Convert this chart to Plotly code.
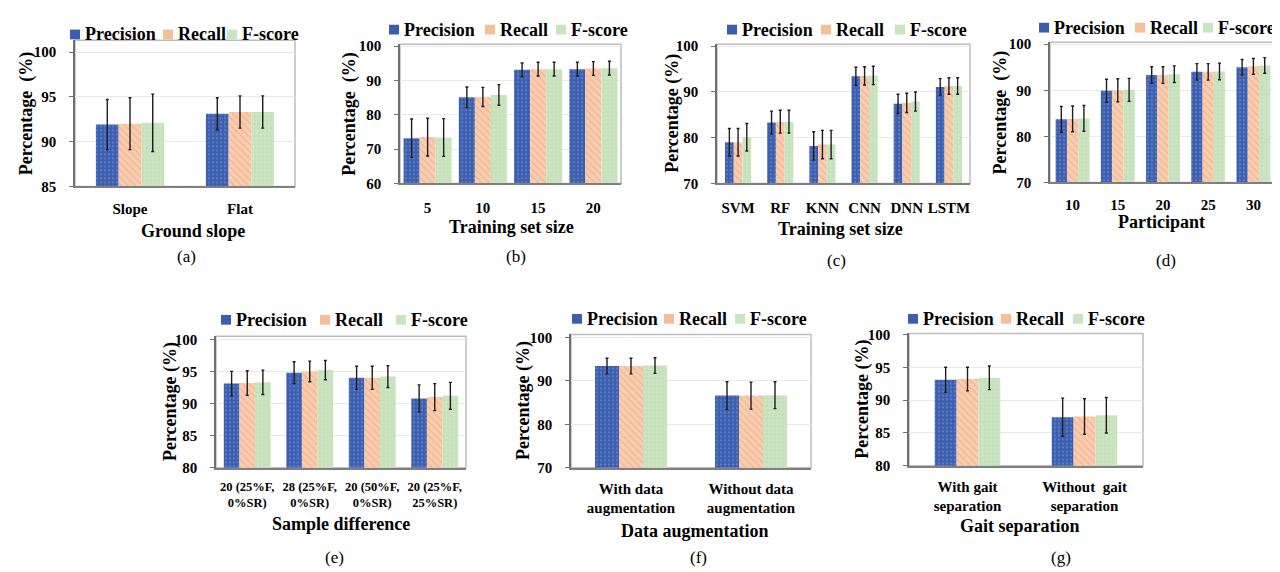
import plotly.graph_objects as go

W, H = 1280, 572
FONT = "Liberation Serif"
SERIES = ["Precision", "Recall", "F-score"]

# ---------------- data ----------------
# (a) Ground slope
a_cats = ["Slope", "Flat"]
a_prec = [91.9, 93.1]
a_rec = [92.0, 93.3]
a_f = [92.1, 93.3]
a_prec_err = [2.8, 1.8]
a_rec_err = [2.9, 1.8]
a_f_err = [3.2, 1.8]
a_yticks = [85, 90, 95, 100]

# (b) Training set size
b_cats = ["5", "10", "15", "20"]
b_prec = [73.2, 85.1, 93.1, 93.3]
b_rec = [73.5, 85.2, 93.3, 93.5]
b_f = [73.4, 85.8, 93.3, 93.6]
b_prec_err = [5.6, 3.0, 2.0, 2.0]
b_rec_err = [5.5, 2.8, 2.0, 2.0]
b_f_err = [5.5, 3.0, 2.0, 2.0]
b_yticks = [60, 70, 80, 90, 100]

# (c) classifiers
c_cats = ["SVM", "RF", "KNN", "CNN", "DNN", "LSTM"]
c_prec = [79.0, 83.3, 78.2, 93.4, 87.4, 91.1]
c_rec = [79.0, 83.5, 78.5, 93.5, 87.6, 91.3]
c_f = [80.1, 83.5, 78.5, 93.6, 87.9, 91.3]
c_prec_err = [3.0, 2.5, 3.1, 2.0, 2.1, 1.8]
c_rec_err = [3.0, 2.5, 3.1, 2.0, 2.1, 1.8]
c_f_err = [3.0, 2.5, 3.1, 2.0, 2.1, 1.8]
c_yticks = [70, 80, 90, 100]

# (d) Participant
d_cats = ["10", "15", "20", "25", "30"]
d_prec = [83.7, 89.9, 93.3, 94.0, 95.0]
d_rec = [83.8, 90.0, 93.3, 94.0, 95.2]
d_f = [83.9, 90.1, 93.5, 94.1, 95.4]
d_prec_err = [2.8, 2.5, 1.8, 1.8, 1.7]
d_rec_err = [2.8, 2.5, 1.8, 1.8, 1.7]
d_f_err = [2.8, 2.5, 1.8, 1.8, 1.7]
d_yticks = [70, 80, 90, 100]

# (e) Sample difference
e_cats = ["20 (25%F,<br>0%SR)", "28 (25%F,<br>0%SR)", "20 (50%F,<br>0%SR)", "20 (25%F,<br>25%SR)"]
e_prec = [93.1, 94.8, 94.0, 90.8]
e_rec = [93.2, 95.0, 94.0, 91.0]
e_f = [93.3, 95.2, 94.2, 91.2]
e_prec_err = [1.9, 1.7, 1.8, 2.1]
e_rec_err = [1.9, 1.6, 1.8, 2.1]
e_f_err = [1.9, 1.5, 1.7, 2.1]
e_yticks = [80, 85, 90, 95, 100]

# (f) Data augmentation
f_cats = ["With data<br>augmentation", "Without data<br>augmentation"]
f_prec = [93.4, 86.6]
f_rec = [93.4, 86.6]
f_f = [93.5, 86.7]
f_prec_err = [1.8, 3.2]
f_rec_err = [1.8, 3.1]
f_f_err = [1.8, 3.1]
f_yticks = [70, 80, 90, 100]

# (g) Gait separation
g_cats = ["With gait<br>separation", "Without  gait<br>separation"]
g_prec = [93.1, 87.4]
g_rec = [93.2, 87.5]
g_f = [93.4, 87.7]
g_prec_err = [1.9, 2.9]
g_rec_err = [1.8, 2.7]
g_f_err = [1.8, 2.7]
g_yticks = [80, 85, 90, 95, 100]

# ---------------- styles ----------------
COLORS = ["#3A5DAE", "#F6BE98", "#C9E4C0"]
PATTERNS = [
    dict(shape=".", fgcolor="#7A96D6", bgcolor="#3A5DAE", size=4, solidity=0.35),
    dict(shape="\\", fgcolor="#F0A27A", bgcolor="#F9CDB0", size=5, solidity=0.3),
    dict(shape="+", fgcolor="#EEF7EA", bgcolor="#C3E0B8", size=4, solidity=0.25),
]


def X(p):
    return p / W


def Y(p):
    return 1 - p / H


panels = [
    dict(cats=a_cats, vals=[a_prec, a_rec, a_f], errs=[a_prec_err, a_rec_err, a_f_err], yticks=a_yticks,
         x0=67, x1=287, yb=176, y100=38, ytop=26, group=0.62, tfs=15, xstand=8,
         ytitle="Percentage\u00a0 (%)", yt_x=18, xtitle="Ground slope", xt=(185, 222), cap="(a)", cap_xy=(178, 248),
         leg=(62, 155, 219), leg_y=20),
    dict(cats=b_cats, vals=[b_prec, b_rec, b_f], errs=[b_prec_err, b_rec_err, b_f_err], yticks=b_yticks,
         x0=392, x1=613, yb=173, y100=32, ytop=30, group=0.87, tfs=15, xstand=10,
         ytitle="Percentage\u00a0 (%)", yt_x=342, xtitle="Training set size", xt=(503, 218), cap="(b)", cap_xy=(508, 248),
         leg=(381, 477, 548), leg_y=15),
    dict(cats=c_cats, vals=[c_prec, c_rec, c_f], errs=[c_prec_err, c_rec_err, c_f_err], yticks=c_yticks,
         x0=709, x1=962, yb=173, y100=32, ytop=30, group=0.62, tfs=15, xstand=10,
         ytitle="Percentage (%)", yt_x=665, xtitle="Training set size", xt=(832, 220), cap="(c)", cap_xy=(828, 252),
         leg=(719, 813, 887), leg_y=15),
    dict(cats=d_cats, vals=[d_prec, d_rec, d_f], errs=[d_prec_err, d_rec_err, d_f_err], yticks=d_yticks,
         x0=1042, x1=1268, yb=172, y100=30, ytop=28, group=0.75, tfs=15, xstand=8,
         ytitle="Percentage\u00a0 (%)", yt_x=992, xtitle="Participant", xt=(1153, 213), cap="(d)", cap_xy=(1158, 252),
         leg=(1031, 1127, 1195), leg_y=13),
    dict(cats=e_cats, vals=[e_prec, e_rec, e_f], errs=[e_prec_err, e_rec_err, e_f_err], yticks=e_yticks,
         x0=208, x1=458, yb=465, y100=333, ytop=330, group=0.75, tfs=12.5, xstand=6,
         ytitle="Percentage (%)", yt_x=162, xtitle="Sample difference", xt=(333, 523), cap="(e)", cap_xy=(326, 557),
         leg=(213, 312, 388), leg_y=313),
    dict(cats=f_cats, vals=[f_prec, f_rec, f_f], errs=[f_prec_err, f_rec_err, f_f_err], yticks=f_yticks,
         x0=563, x1=803, yb=465, y100=331, ytop=328, group=0.60, tfs=15, xstand=6,
         ytitle="Percentage (%)", yt_x=515, xtitle="Data augmentation", xt=(687, 530), cap="(f)", cap_xy=(690, 557),
         leg=(564, 656, 727), leg_y=312),
    dict(cats=g_cats, vals=[g_prec, g_rec, g_f], errs=[g_prec_err, g_rec_err, g_f_err], yticks=g_yticks,
         x0=901, x1=1135, yb=463, y100=328, ytop=327, group=0.56, tfs=15, xstand=6,
         ytitle="Percentage (%)", yt_x=855, xtitle="Gait separation", xt=(1012, 525), cap="(g)", cap_xy=(1053, 557),
         leg=(900, 993, 1065), leg_y=312),
]

fig = go.Figure()
layout = dict()
annotations = []
shapes = []

for i, p in enumerate(panels):
    n = i + 1
    xa = "x" if n == 1 else f"x{n}"
    ya = "y" if n == 1 else f"y{n}"
    g = p["group"]
    for k in range(3):
        fig.add_trace(go.Bar(
            x=p["cats"], y=p["vals"][k], name=SERIES[k],
            xaxis=xa, yaxis=ya, showlegend=False,
            width=g / 3, offset=-g / 2 + k * g / 3,
            marker=dict(color=COLORS[k], pattern=PATTERNS[k], line=dict(width=0)),
            error_y=dict(type="data", array=p["errs"][k], visible=True,
                         color="#1E1E1E", thickness=1.4, width=1.5),
        ))
    ymin = p["yticks"][0]
    ymax = p["yticks"][-1]
    pxu = (p["yb"] - p["y100"]) / (ymax - ymin)
    rtop = ymax + (p["y100"] - p["ytop"]) / pxu
    layout["xaxis" if n == 1 else f"xaxis{n}"] = dict(
        domain=[X(p["x0"]), X(p["x1"])], anchor=ya, type="category",
        showline=True, linecolor="#7F7F7F", linewidth=1.5, ticks="",
        showgrid=False, zeroline=False, ticklabelstandoff=p["xstand"],
        tickfont=dict(family=FONT, size=p["tfs"], color="black", weight="bold"),
    )
    layout["yaxis" if n == 1 else f"yaxis{n}"] = dict(
        domain=[Y(p["yb"]), Y(p["ytop"])], anchor=xa, range=[ymin, rtop],
        tickvals=p["yticks"], showline=True, linecolor="#6F6F6F", linewidth=1.5,
        ticks="outside", ticklen=4, tickcolor="#6F6F6F", ticklabelstandoff=10,
        showgrid=True, gridcolor="#E9E9E9", gridwidth=1, zeroline=False,
        tickfont=dict(family=FONT, size=15, color="black", weight="bold"),
    )
    # outer frame
    shapes.append(dict(type="rect", xref=f"{xa} domain", yref=f"{ya} domain",
                       x0=0, x1=1, y0=0, y1=1, line=dict(color="#BDBDBD", width=1.5),
                       fillcolor="rgba(0,0,0,0)", layer="below"))
    # y title
    annotations.append(dict(text=p["ytitle"], textangle=-90, xref="paper", yref="paper",
                            x=X(p["yt_x"]), y=Y((p["yb"] + p["ytop"]) / 2), showarrow=False,
                            xanchor="center", yanchor="middle",
                            font=dict(family=FONT, size=18, color="black", weight="bold")))
    # x title
    annotations.append(dict(text=p["xtitle"], xref="paper", yref="paper",
                            x=X(p["xt"][0]), y=Y(p["xt"][1]), showarrow=False,
                            xanchor="center", yanchor="middle",
                            font=dict(family=FONT, size=18, color="black", weight="bold")))
    # caption
    annotations.append(dict(text=p["cap"], xref="paper", yref="paper",
                            x=X(p["cap_xy"][0]), y=Y(p["cap_xy"][1]), showarrow=False,
                            xanchor="center", yanchor="middle",
                            font=dict(family=FONT, size=17, color="black")))
    # legend
    for k in range(3):
        sx = p["leg"][k]
        sy = p["leg_y"]
        shapes.append(dict(type="rect", xref="paper", yref="paper",
                           x0=X(sx), x1=X(sx + 10), y0=Y(sy + 5), y1=Y(sy - 5),
                           fillcolor=COLORS[k], line=dict(width=0)))
        annotations.append(dict(text=SERIES[k], xref="paper", yref="paper",
                                x=X(sx + 13), y=Y(sy), showarrow=False,
                                xanchor="left", yanchor="middle",
                                font=dict(family=FONT, size=18, color="black", weight="bold")))

fig.update_layout(**layout)
fig.update_layout(
    width=W, height=H, margin=dict(l=0, r=0, t=0, b=0),
    paper_bgcolor="white", plot_bgcolor="white",
    barmode="overlay", showlegend=False,
    annotations=annotations, shapes=shapes,
    font=dict(family=FONT, color="black"),
)

fig.write_html("out.html")
